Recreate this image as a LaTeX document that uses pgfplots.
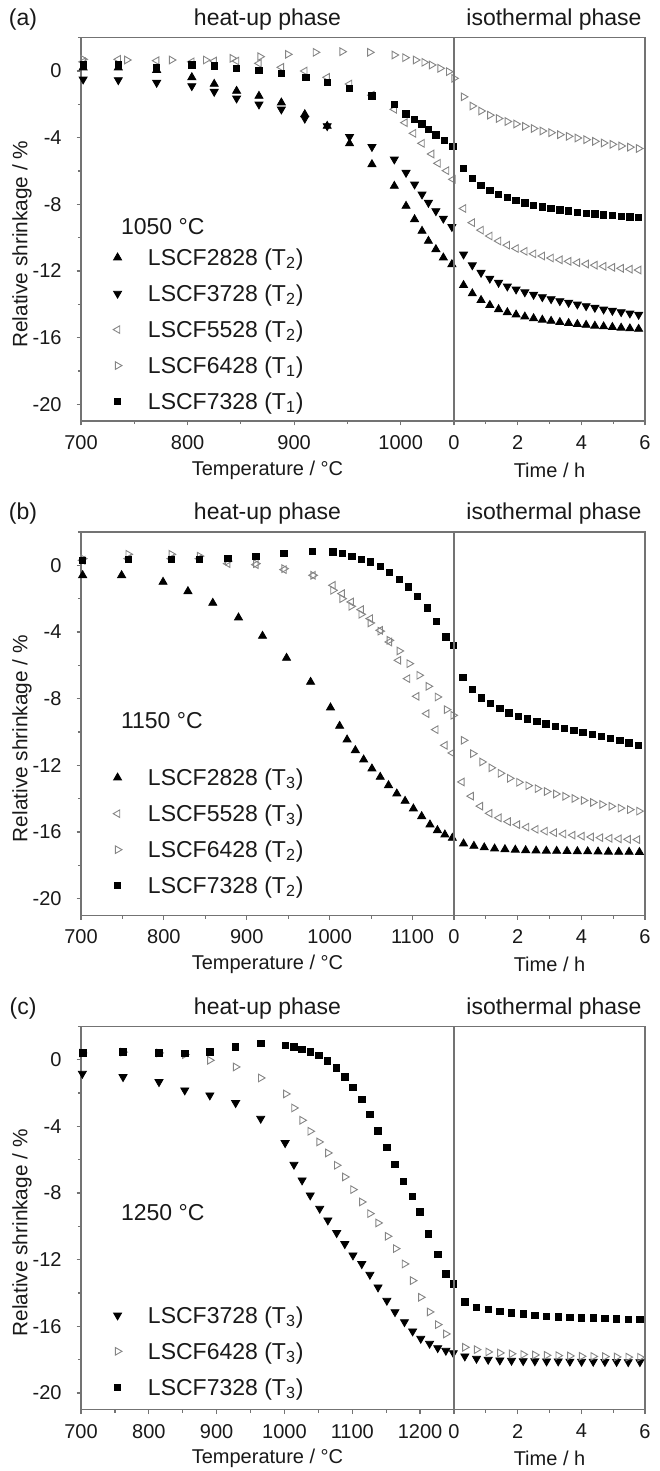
\documentclass[border=0pt]{standalone}
\usepackage{fontspec}
\setmainfont{Liberation Sans}
\usepackage{pgfplots}
\pgfplotsset{compat=1.18}
\definecolor{framegray}{gray}{0.45}
\definecolor{mkgray}{gray}{0.52}
\definecolor{txt}{gray}{0.1}

\pgfplotsset{
  base/.style={
    scale only axis, height=191.67pt, ymin=-21, ymax=2,
    axis line style={framegray, line width=0.65pt},
    every tick/.style={framegray, line width=0.6pt},
    tick align=outside, major tick length=2.2pt, minor tick length=1.6pt,
    ticklabel style={font=\fontsize{10}{12}\selectfont, text=txt},
    /pgf/number format/assume math mode=true,
    /pgf/number format/1000 sep={},
    xticklabel style={yshift=-1.5pt},
    every axis x label/.style={at={(axis description cs:0.5,0)}, anchor=center, yshift=-24.5pt, font=\fontsize{10}{12}\selectfont, text=txt},
  },
  leftax/.style={base, width=186.5pt, tick pos=left, xmin=700,
    ytick={-20,-16,...,0}, minor ytick={-18,-14,...,2},
    yticklabel style={xshift=-4pt},
    xlabel={Temperature / °C},
    ylabel={Relative shrinkage / \%},
    every axis y label/.style={at={(axis description cs:-0.158,0.461)}, rotate=90, anchor=center, font=\fontsize{10.4}{12}\selectfont, text=txt},
    legend style={draw=none, fill=none, inner sep=0pt, font=\fontsize{11.5}{13}\selectfont, text=txt,
      row sep=9.7pt, cells={anchor=west}, nodes={inner sep=0pt, text height=8pt, text depth=0.3pt}, anchor=north west},
    legend image code/.code={\path (-4pt,0pt) (15pt,0pt); \draw[##1] plot coordinates {(0pt,0pt)};},
  },
  rightax/.style={base, width=95.5pt, xmin=0, xmax=6, xtick={0,2,4,6}, minor xtick={1,3,5},
    ytick=\empty, xtick pos=left, xlabel={Time / h}},
  mUp/.style={only marks, mark=triangle*, mark size=2.3pt, color=black, mark options={solid, fill=black}},
  mDown/.style={only marks, mark=triangle*, mark size=2.3pt, color=black, mark options={solid, fill=black, rotate=180}},
  mLeft/.style={only marks, mark=triangle, mark size=2.2pt, color=mkgray, mark options={solid, rotate=90, line width=0.45pt}},
  mRight/.style={only marks, mark=triangle, mark size=2.2pt, color=mkgray, mark options={solid, rotate=-90, line width=0.45pt}},
  mSq/.style={only marks, mark=square*, mark size=1.6pt, color=black},
}

\begin{document}
\begin{tikzpicture}
\useasboundingbox (0,0) rectangle (329.5pt,-735.5pt);

% ---------------- headers ----------------
\foreach \yy/\lab in {9.85/(a), 256.98/(b), 504.13/(c)}{
  \node[text=txt, font=\fontsize{11.5}{13}\selectfont] at (11.5pt,-\yy pt) {\lab};
  \node[text=txt, font=\fontsize{11.5}{13}\selectfont] at (133.75pt,-\yy pt) {heat-up phase};
  \node[text=txt, font=\fontsize{11.5}{13}\selectfont] at (277pt,-\yy pt) {isothermal phase};
}

% ================= Panel (a) =================
\begin{axis}[leftax, at={(40.5pt,-210.5pt)}, anchor=south west, xmax=1050,
  xtick={700,800,900,1000}, minor xtick={750,850,950},
  legend style={at={(rel axis cs:0.0745,0.449)}}]
\addplot[mUp] coordinates {(702,0.2)(735,0.2)(771,0.05)(804,-0.38)(825,-0.78)(846,-1.2)(867,-1.5)(888,-1.9)(910,-2.6)(931,-3.3)(952,-4.35)(973,-5.6)(994,-6.9)(1005,-8.1)(1013,-8.9)(1020,-9.6)(1026,-10.2)(1033,-10.7)(1040,-11.2)(1048,-11.6)};
\addlegendentry{LSCF2828 (T\textsubscript{2})}
\addplot[mDown] coordinates {(702,-0.5)(735,-0.54)(771,-0.7)(804,-0.9)(825,-1.24)(846,-1.64)(867,-2.0)(888,-2.3)(910,-2.85)(931,-3.3)(952,-3.95)(973,-4.55)(994,-5.3)(1005,-6.1)(1013,-6.8)(1020,-7.4)(1026,-7.9)(1033,-8.4)(1040,-8.85)(1048,-9.35)};
\addlegendentry{LSCF3728 (T\textsubscript{2})}
\addplot[mLeft] coordinates {(702,0.55)(735,0.7)(771,0.62)(804,0.55)(825,0.6)(846,0.6)(867,0.46)(888,0.22)(910,0.0)(931,-0.38)(952,-0.78)(973,-1.45)(994,-2.3)(1004,-3.1)(1012,-3.74)(1020,-4.34)(1029,-4.98)(1035,-5.54)(1043,-5.98)(1049,-6.5)};
\addlegendentry{LSCF5528 (T\textsubscript{2})}
\addplot[mRight] coordinates {(702,0.7)(743,0.66)(785,0.66)(817,0.66)(842,0.76)(868,0.86)(894,1.0)(920,1.12)(945,1.16)(971,1.12)(994,0.96)(1004,0.8)(1014,0.66)(1022,0.52)(1029,0.36)(1037,0.16)(1045,-0.04)(1050,-0.44)};
\addlegendentry{LSCF6428 (T\textsubscript{1})}
\addplot[mSq] coordinates {(702,0.36)(735,0.36)(771,0.2)(804,0.36)(825,0.3)(846,0.16)(867,0.02)(888,-0.14)(911,-0.38)(931,-0.7)(952,-1.04)(973,-1.5)(994,-2.0)(1005,-2.58)(1013,-2.9)(1020,-3.18)(1026,-3.5)(1033,-3.84)(1041,-4.18)(1049,-4.54)};
\addlegendentry{LSCF7328 (T\textsubscript{1})}
\node[anchor=west, text=txt, font=\fontsize{11.5}{13}\selectfont] at (rel axis cs:0.0885,0.5065) {1050 °C};
\end{axis}
\begin{axis}[rightax, at={(227pt,-210.5pt)}, anchor=south west]
\addplot[mUp] coordinates {(0.30,-12.85)(0.575,-13.35)(0.85,-13.75)(1.125,-14.05)(1.40,-14.3)(1.675,-14.48)(1.95,-14.62)(2.225,-14.74)(2.50,-14.84)(2.775,-14.93)(3.05,-15.0)(3.325,-15.07)(3.60,-15.13)(3.875,-15.19)(4.15,-15.24)(4.425,-15.29)(4.70,-15.33)(4.975,-15.37)(5.25,-15.41)(5.525,-15.45)(5.80,-15.48)};
\addplot[mDown] coordinates {(0.30,-11.0)(0.575,-11.65)(0.85,-12.1)(1.125,-12.45)(1.40,-12.7)(1.675,-12.92)(1.95,-13.1)(2.225,-13.27)(2.50,-13.42)(2.775,-13.56)(3.05,-13.68)(3.325,-13.8)(3.60,-13.9)(3.875,-14.0)(4.15,-14.1)(4.425,-14.2)(4.70,-14.3)(4.975,-14.38)(5.25,-14.46)(5.525,-14.54)(5.80,-14.62)};
\addplot[mLeft] coordinates {(0.30,-8.25)(0.575,-9.1)(0.85,-9.55)(1.125,-9.9)(1.40,-10.2)(1.675,-10.45)(1.95,-10.65)(2.225,-10.82)(2.50,-10.97)(2.775,-11.1)(3.05,-11.22)(3.325,-11.33)(3.60,-11.42)(3.875,-11.5)(4.15,-11.58)(4.425,-11.65)(4.70,-11.72)(4.975,-11.78)(5.25,-11.84)(5.525,-11.89)(5.80,-11.94)};
\addplot[mRight] coordinates {(0.30,-1.55)(0.575,-2.1)(0.85,-2.4)(1.125,-2.65)(1.40,-2.85)(1.675,-3.03)(1.95,-3.18)(2.225,-3.32)(2.50,-3.45)(2.775,-3.6)(3.05,-3.7)(3.325,-3.82)(3.60,-3.92)(3.875,-4.02)(4.15,-4.12)(4.425,-4.22)(4.70,-4.32)(4.975,-4.4)(5.25,-4.5)(5.525,-4.57)(5.80,-4.65)};
\addplot[mSq] coordinates {(0.30,-5.85)(0.575,-6.45)(0.85,-6.85)(1.125,-7.15)(1.40,-7.4)(1.675,-7.6)(1.95,-7.78)(2.225,-7.92)(2.50,-8.05)(2.775,-8.15)(3.05,-8.25)(3.325,-8.33)(3.60,-8.4)(3.875,-8.47)(4.15,-8.53)(4.425,-8.58)(4.70,-8.63)(4.975,-8.68)(5.25,-8.72)(5.525,-8.76)(5.80,-8.8)};
\end{axis}

% ================= Panel (b) =================
\begin{axis}[leftax, at={(40.5pt,-457.65pt)}, anchor=south west, xmax=1150,
  xtick={700,800,900,1000,1100}, minor xtick={750,850,950,1050},
  legend style={at={(rel axis cs:0.0745,0.3817)}}]
\addplot[mUp] coordinates {(702,-0.6)(749,-0.6)(799,-1.0)(829,-1.56)(859,-2.26)(890,-3.14)(919,-4.24)(948,-5.56)(977,-7.0)(1001,-8.54)(1012,-9.64)(1021,-10.46)(1031,-11.1)(1041,-11.66)(1051,-12.2)(1061,-12.7)(1071,-13.2)(1081,-13.7)(1091,-14.14)(1101,-14.6)(1111,-15.06)(1121,-15.56)(1130,-15.9)(1139,-16.16)(1148,-16.36)};
\addlegendentry{LSCF2828 (T\textsubscript{3})}
\addplot[mLeft] coordinates {(702,0.3)(757,0.4)(809,0.4)(843,0.4)(877,0.1)(911,0.04)(945,-0.26)(980,-0.6)(1004,-1.2)(1015,-1.7)(1026,-2.2)(1038,-2.66)(1049,-3.2)(1061,-3.9)(1072,-4.6)(1083,-5.7)(1094,-6.8)(1105,-7.86)(1117,-8.9)(1128,-9.86)(1139,-10.8)(1148,-11.26)};
\addlegendentry{LSCF5528 (T\textsubscript{3})}
\addplot[mRight] coordinates {(702,0.4)(757,0.66)(809,0.66)(843,0.55)(877,0.25)(911,0.1)(945,-0.2)(980,-0.6)(1004,-1.5)(1015,-2.0)(1026,-2.46)(1038,-2.94)(1049,-3.46)(1061,-3.95)(1072,-4.5)(1084,-5.14)(1096,-5.9)(1108,-6.6)(1119,-7.26)(1130,-7.9)(1141,-8.66)(1149,-9.0)};
\addlegendentry{LSCF6428 (T\textsubscript{2})}
\addplot[mSq] coordinates {(702,0.3)(757,0.34)(809,0.34)(843,0.34)(877,0.4)(911,0.54)(945,0.7)(979,0.84)(1004,0.8)(1015,0.7)(1027,0.54)(1038,0.35)(1049,0.2)(1061,-0.06)(1072,-0.44)(1084,-0.84)(1095,-1.3)(1106,-1.86)(1118,-2.56)(1129,-3.36)(1140,-4.3)(1149,-4.8)};
\addlegendentry{LSCF7328 (T\textsubscript{2})}
\node[anchor=west, text=txt, font=\fontsize{11.5}{13}\selectfont] at (rel axis cs:0.0885,0.509) {1150 °C};
\end{axis}
\begin{axis}[rightax, at={(227pt,-457.65pt)}, anchor=south west]
\addplot[mUp] coordinates {(0.30,-16.7)(0.625,-16.84)(0.95,-16.93)(1.275,-17.0)(1.60,-17.04)(1.925,-17.07)(2.25,-17.1)(2.575,-17.12)(2.90,-17.13)(3.225,-17.14)(3.55,-17.15)(3.875,-17.16)(4.20,-17.17)(4.525,-17.18)(4.85,-17.19)(5.175,-17.2)(5.50,-17.2)(5.825,-17.21)};
\addplot[mLeft] coordinates {(0.25,-13.0)(0.54,-13.85)(0.83,-14.45)(1.12,-14.88)(1.41,-15.15)(1.70,-15.38)(1.99,-15.56)(2.28,-15.71)(2.57,-15.84)(2.86,-15.95)(3.15,-16.04)(3.44,-16.12)(3.73,-16.19)(4.02,-16.25)(4.31,-16.3)(4.60,-16.34)(4.89,-16.38)(5.18,-16.41)(5.47,-16.44)(5.76,-16.46)};
\addplot[mRight] coordinates {(0.30,-10.5)(0.59,-11.3)(0.88,-11.8)(1.17,-12.15)(1.46,-12.48)(1.75,-12.78)(2.04,-13.02)(2.33,-13.22)(2.62,-13.4)(2.91,-13.57)(3.20,-13.72)(3.49,-13.86)(3.78,-13.99)(4.07,-14.11)(4.36,-14.23)(4.65,-14.35)(4.94,-14.46)(5.23,-14.57)(5.52,-14.66)(5.81,-14.75)};
\addplot[mSq] coordinates {(0.28,-6.74)(0.57,-7.45)(0.86,-7.95)(1.15,-8.3)(1.44,-8.6)(1.73,-8.85)(2.02,-9.05)(2.31,-9.22)(2.60,-9.38)(2.89,-9.52)(3.18,-9.66)(3.47,-9.79)(3.76,-9.92)(4.05,-10.04)(4.34,-10.16)(4.63,-10.28)(4.92,-10.4)(5.21,-10.52)(5.50,-10.65)(5.79,-10.8)};
\end{axis}

% ================= Panel (c) =================
\begin{axis}[leftax, at={(40.5pt,-704.8pt)}, anchor=south west, xmax=1250,
  xtick={700,800,900,1000,1100,1200}, minor xtick={750,850,950,1050,1150},
  legend style={at={(rel axis cs:0.0745,0.2687)}}]
\addplot[mDown] coordinates {(702,-0.84)(762,-1.04)(815,-1.34)(853,-1.84)(890,-2.14)(928,-2.6)(965,-3.54)(1001,-5.0)(1014,-6.3)(1026,-7.24)(1038,-8.14)(1052,-8.94)(1064,-9.64)(1077,-10.4)(1089,-11.06)(1101,-11.74)(1114,-12.26)(1126,-12.9)(1138,-13.66)(1151,-14.46)(1163,-15.14)(1177,-15.74)(1189,-16.3)(1201,-16.74)(1214,-17.04)(1226,-17.3)(1238,-17.46)(1249,-17.6)};
\addlegendentry{LSCF3728 (T\textsubscript{3})}
\addplot[mRight] coordinates {(702,0.4)(762,0.45)(815,0.4)(853,0.3)(890,-0.04)(928,-0.44)(965,-1.1)(1002,-2.06)(1014,-2.9)(1026,-3.64)(1038,-4.3)(1051,-4.94)(1064,-5.6)(1077,-6.34)(1089,-7.04)(1101,-7.8)(1114,-8.54)(1126,-9.24)(1138,-9.8)(1152,-10.6)(1164,-11.34)(1177,-12.26)(1189,-13.26)(1201,-14.26)(1214,-15.14)(1226,-15.9)(1238,-16.46)(1251,-16.7)};
\addlegendentry{LSCF6428 (T\textsubscript{3})}
\addplot[mSq] coordinates {(703,0.4)(762,0.46)(815,0.4)(853,0.36)(890,0.46)(928,0.76)(965,0.96)(1001,0.86)(1014,0.76)(1026,0.62)(1038,0.46)(1051,0.26)(1063,-0.08)(1077,-0.5)(1089,-1.04)(1101,-1.68)(1114,-2.4)(1126,-3.3)(1138,-4.28)(1151,-5.28)(1163,-6.28)(1175,-7.3)(1189,-8.2)(1200,-9.14)(1212,-10.46)(1226,-11.7)(1238,-12.86)(1249,-13.46)};
\addlegendentry{LSCF7328 (T\textsubscript{3})}
\node[anchor=west, text=txt, font=\fontsize{11.5}{13}\selectfont] at (rel axis cs:0.0885,0.513) {1250 °C};
\end{axis}
\begin{axis}[rightax, at={(227pt,-704.8pt)}, anchor=south west]
\addplot[mDown] coordinates {(0.34,-17.8)(0.707,-17.94)(1.073,-18.0)(1.44,-18.04)(1.807,-18.06)(2.173,-18.08)(2.54,-18.09)(2.907,-18.1)(3.273,-18.1)(3.64,-18.11)(4.007,-18.12)(4.373,-18.12)(4.74,-18.13)(5.107,-18.13)(5.473,-18.14)(5.84,-18.14)};
\addplot[mRight] coordinates {(0.34,-17.26)(0.707,-17.4)(1.073,-17.54)(1.44,-17.6)(1.807,-17.65)(2.173,-17.69)(2.54,-17.72)(2.907,-17.74)(3.273,-17.76)(3.64,-17.78)(4.007,-17.8)(4.373,-17.81)(4.74,-17.82)(5.107,-17.84)(5.473,-17.85)(5.84,-17.86)};
\addplot[mSq] coordinates {(0.34,-14.54)(0.707,-14.86)(1.073,-15.0)(1.44,-15.1)(1.807,-15.2)(2.173,-15.26)(2.54,-15.34)(2.907,-15.4)(3.273,-15.44)(3.64,-15.46)(4.007,-15.5)(4.373,-15.5)(4.74,-15.54)(5.107,-15.56)(5.473,-15.58)(5.84,-15.6)};
\end{axis}
\end{tikzpicture}
\end{document}
